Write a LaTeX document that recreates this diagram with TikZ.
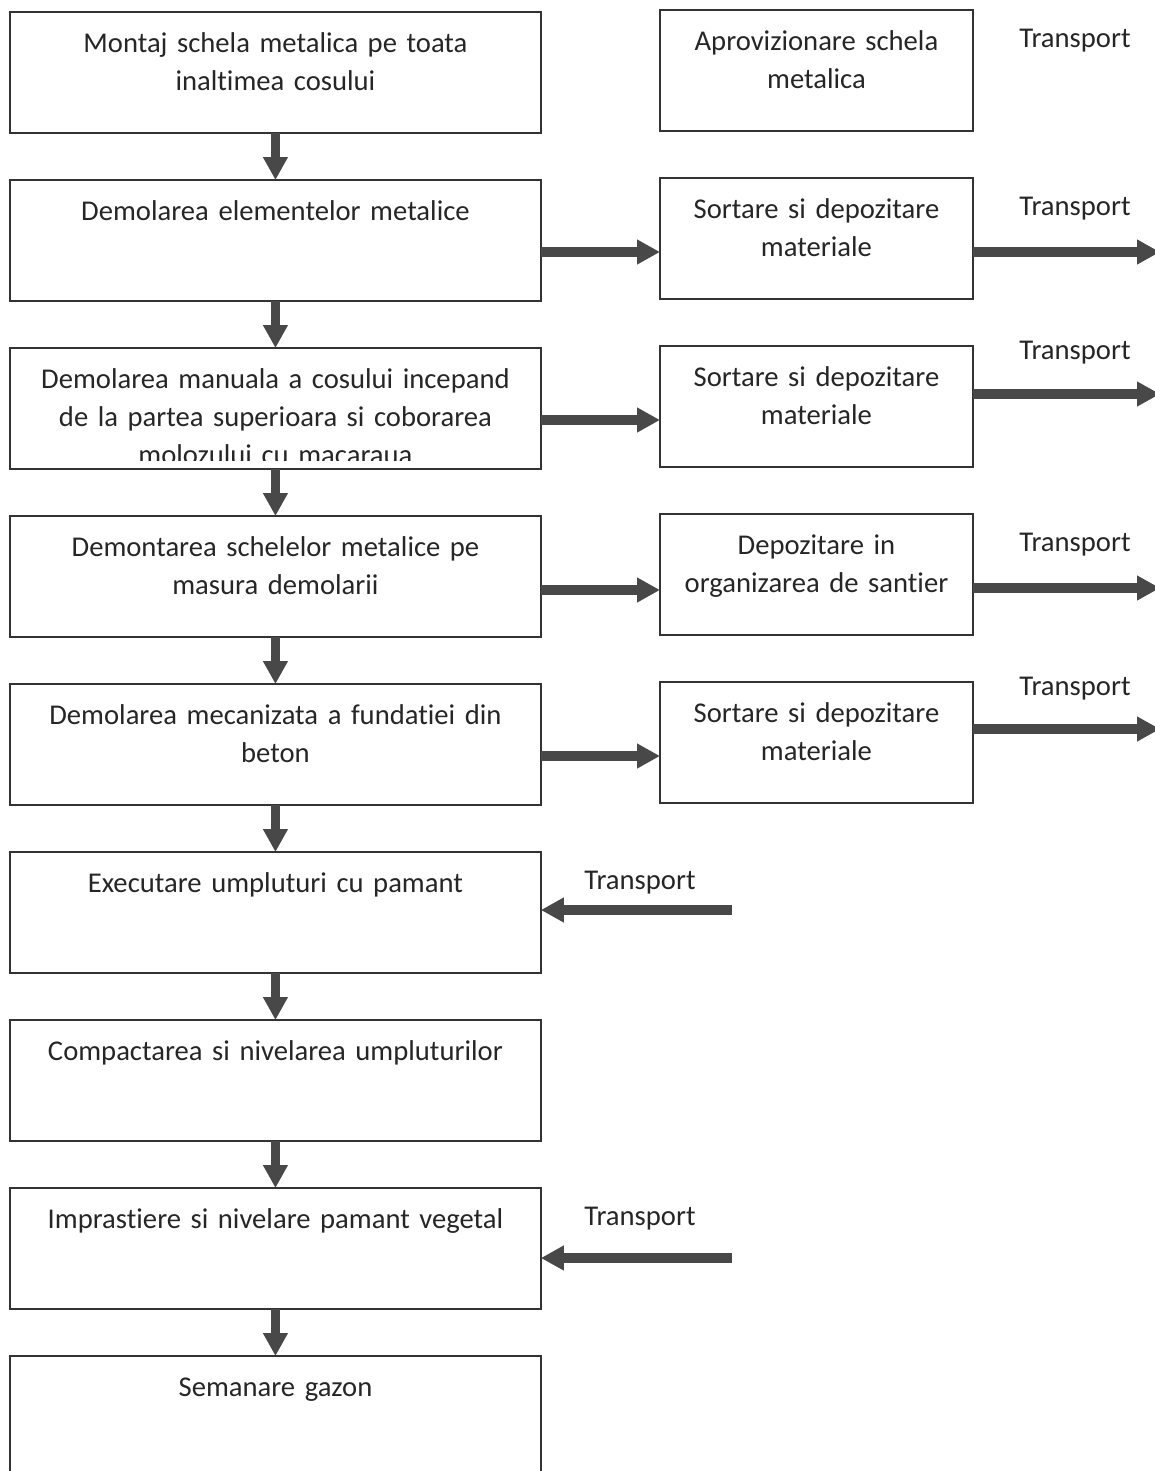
\documentclass[tikz,border=0pt]{standalone}
\usepackage{fontspec}
\setmainfont{Carlito}[Ligatures={NoCommon}]
\usetikzlibrary{arrows.meta}
\definecolor{inkgray}{HTML}{262626}
\definecolor{boxgray}{HTML}{333333}
\definecolor{arrowgray}{HTML}{484848}
\begin{document}
\begin{tikzpicture}[x=0.02cm, y=-0.02cm,
	font=\fontsize{16.3pt}{21.7pt}\selectfont, text=inkgray,
	stepbox/.style={draw=boxgray, line width=0.04cm, inner sep=0pt, outer sep=0pt, anchor=north west,
		align=center, text height=0.81cm, text depth=1.61cm},
	leftbox/.style={stepbox, text width=10.62cm},
	rightbox/.style={stepbox, text width=6.26cm},
	frame/.style={draw=boxgray, line width=0.04cm},
	flow/.style={line width=0.19cm, draw=arrowgray, -{Triangle[length=0.46cm, width=0.47cm]}}]
	\useasboundingbox (0,0) rectangle (1154,1471);
	\fill[white] (0,0) rectangle (1154,1471);

	\node[leftbox] (b1) at (10,12) {Montaj schela metalica pe toata\\ inaltimea cosului};
	\node[leftbox] (b2) at (10,180) {Demolarea elementelor metalice};
	\begin{scope}
		\clip (0,300) rectangle (1154,460);
		\node[leftbox] (b3) at (10,348) {Demolarea manuala a cosului incepand\\ de la partea superioara si coborarea\\ molozului cu macaraua};
	\end{scope}
	\draw[frame] (b3.north west) rectangle (b3.south east);
	\node[leftbox] (b4) at (10,516) {Demontarea schelelor metalice pe\\ masura demolarii};
	\node[leftbox] (b5) at (10,684) {Demolarea mecanizata a fundatiei din\\ beton};
	\node[leftbox] (b6) at (10,852) {Executare umpluturi cu pamant};
	\node[leftbox] (b7) at (10,1020) {Compactarea si nivelarea umpluturilor};
	\node[leftbox] (b8) at (10,1188) {Imprastiere si nivelare pamant vegetal};
	\node[leftbox] (b9) at (10,1356) {Semanare gazon};

	\node[rightbox] (r1) at (660,10) {Aprovizionare schela\\ metalica};
	\node[rightbox] (r2) at (660,178) {Sortare si depozitare\\ materiale};
	\node[rightbox] (r3) at (660,346) {Sortare si depozitare\\ materiale};
	\node[rightbox] (r4) at (660,514) {Depozitare in\\ organizarea de santier};
	\node[rightbox] (r5) at (660,682) {Sortare si depozitare\\ materiale};

	\node (t1) at (1075,41) {Transport};
	\node (t2) at (1075,209) {Transport};
	\node (t3) at (1075,353) {Transport};
	\node (t4) at (1075,545) {Transport};
	\node (t5) at (1075,689) {Transport};
	\node (t6) at (640,883) {Transport};
	\node (t8) at (640,1219) {Transport};

	\draw[flow] (b1) -- (b2);
	\draw[flow] (b2) -- (b3);
	\draw[flow] (b3) -- (b4);
	\draw[flow] (b4) -- (b5);
	\draw[flow] (b5) -- (b6);
	\draw[flow] (b6) -- (b7);
	\draw[flow] (b7) -- (b8);
	\draw[flow] (b8) -- (b9);

	\draw[flow] (b2.east |- 0,252) -- (r2.west |- 0,252);
	\draw[flow] (b3.east |- 0,420) -- (r3.west |- 0,420);
	\draw[flow] (b4.east |- 0,590) -- (r4.west |- 0,590);
	\draw[flow] (b5.east |- 0,756) -- (r5.west |- 0,756);

	\coordinate (o2) at (1160,252);
	\coordinate (o3) at (1160,394);
	\coordinate (o4) at (1160,588);
	\coordinate (o5) at (1160,729);
	\draw[flow] (r2.east |- o2) -- (o2);
	\draw[flow] (r3.east |- o3) -- (o3);
	\draw[flow] (r4.east |- o4) -- (o4);
	\draw[flow] (r5.east |- o5) -- (o5);

	\coordinate (i6) at (732,910);
	\coordinate (i8) at (732,1258);
	\draw[flow] (i6) -- (b6.east |- i6);
	\draw[flow] (i8) -- (b8.east |- i8);
\end{tikzpicture}
\end{document}
